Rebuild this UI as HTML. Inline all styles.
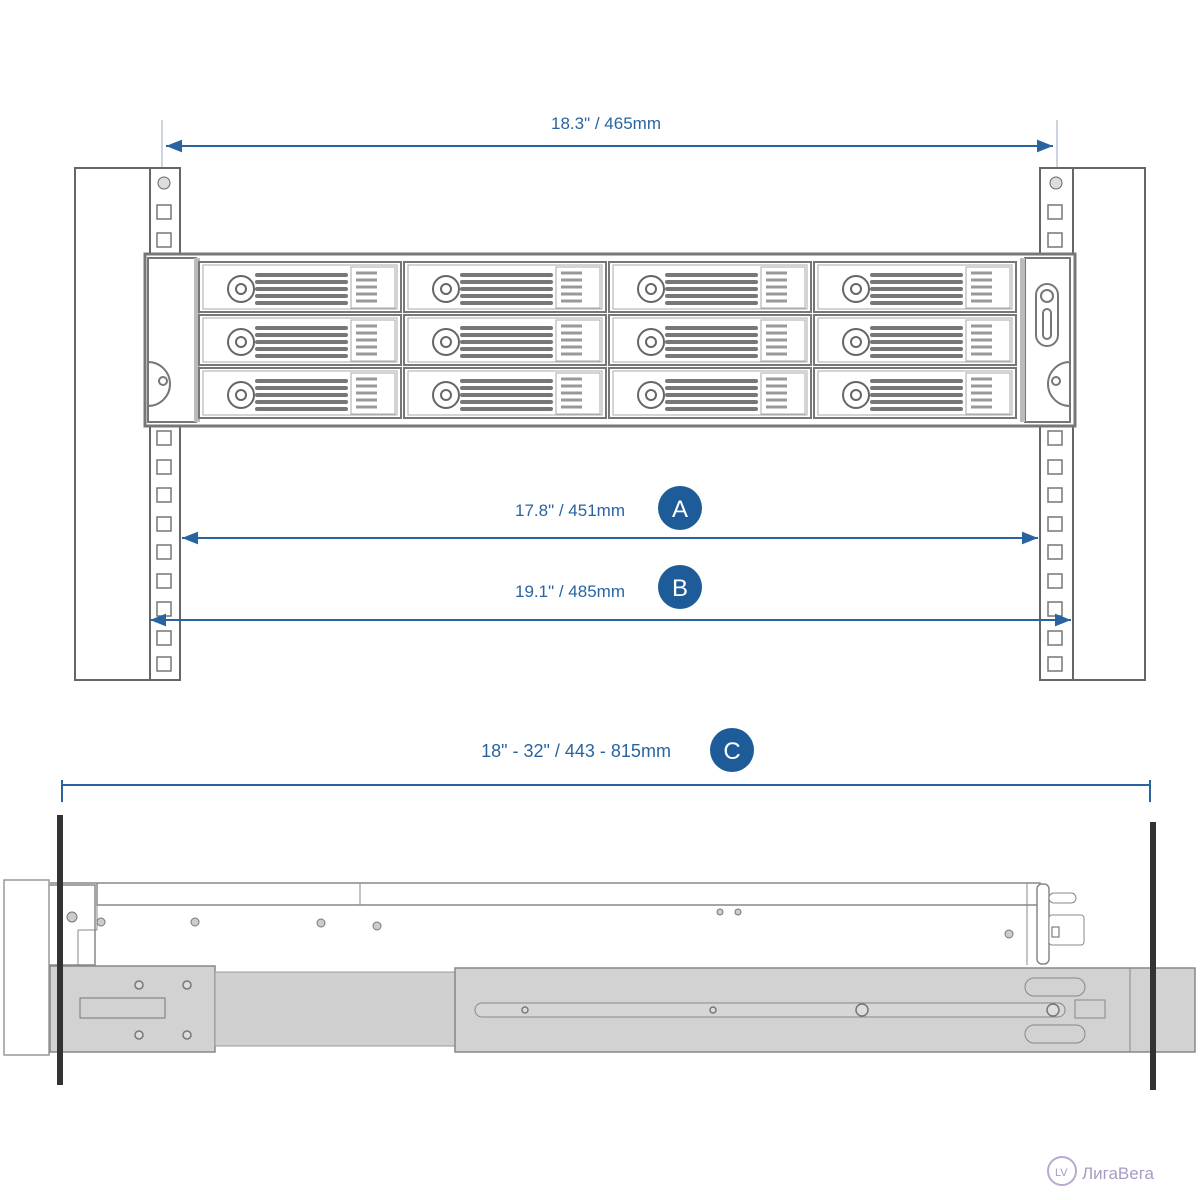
<!DOCTYPE html>
<html><head><meta charset="utf-8"><style>
html,body{margin:0;padding:0;background:#fff}
svg{display:block}
text{font-family:"Liberation Sans",Arial,sans-serif}
</style></head><body>
<svg width="1200" height="1200" viewBox="0 0 1200 1200" xmlns="http://www.w3.org/2000/svg">
<defs>
<marker id="ar" viewBox="0 0 10 10" refX="10" refY="5" markerWidth="8" markerHeight="8" orient="auto-start-reverse"><path d="M0,1 L10,5 L0,9 z" fill="#2a64a0"/></marker>
<g id="bay">
 <rect x="0" y="0" width="202" height="50" fill="#fff" stroke="#777" stroke-width="2"/>
 <rect x="4" y="3" width="194" height="44" fill="none" stroke="#aaa" stroke-width="1"/>
 <circle cx="42" cy="27" r="13" fill="#fff" stroke="#666" stroke-width="2"/>
 <circle cx="42" cy="27" r="5" fill="none" stroke="#666" stroke-width="2"/>
 <g stroke="#777" stroke-width="4" stroke-linecap="round">
  <line x1="58" y1="13" x2="147" y2="13"/><line x1="58" y1="20" x2="147" y2="20"/>
  <line x1="58" y1="27" x2="147" y2="27"/><line x1="58" y1="34" x2="147" y2="34"/>
  <line x1="58" y1="41" x2="147" y2="41"/>
 </g>
 <rect x="152" y="5" width="44" height="41" fill="none" stroke="#aaa"/>
 <g stroke="#999" stroke-width="3"><line x1="157" y1="11" x2="178" y2="11"/><line x1="157" y1="18" x2="178" y2="18"/><line x1="157" y1="25" x2="178" y2="25"/><line x1="157" y1="32" x2="178" y2="32"/><line x1="157" y1="39" x2="178" y2="39"/></g>
</g>
<rect id="hole" width="14" height="14" fill="#fff" stroke="#777" stroke-width="1.5"/>
</defs>

<!-- top dimension -->
<line x1="162" y1="120" x2="162" y2="178" stroke="#9ab" stroke-width="1"/>
<line x1="1057" y1="120" x2="1057" y2="178" stroke="#9ab" stroke-width="1"/>
<line x1="166" y1="146" x2="1053" y2="146" stroke="#2a64a0" stroke-width="2" marker-start="url(#ar)" marker-end="url(#ar)"/>
<text x="606" y="129" font-size="17" fill="#2a64a0" text-anchor="middle">18.3" / 465mm</text>

<!-- rack posts -->
<rect x="75" y="168" width="105" height="512" fill="#fff" stroke="#666" stroke-width="2"/>
<line x1="150" y1="168" x2="150" y2="680" stroke="#666" stroke-width="2"/>
<rect x="1040" y="168" width="105" height="512" fill="#fff" stroke="#666" stroke-width="2"/>
<line x1="1073" y1="168" x2="1073" y2="680" stroke="#666" stroke-width="2"/>
<circle cx="164" cy="183" r="6" fill="#ddd" stroke="#666"/>
<circle cx="1056" cy="183" r="6" fill="#ddd" stroke="#666"/>
<g>
<use href="#hole" x="157" y="205"/><use href="#hole" x="157" y="233"/>
<use href="#hole" x="157" y="431"/><use href="#hole" x="157" y="460"/><use href="#hole" x="157" y="488"/><use href="#hole" x="157" y="517"/><use href="#hole" x="157" y="545"/><use href="#hole" x="157" y="574"/><use href="#hole" x="157" y="602"/><use href="#hole" x="157" y="631"/><use href="#hole" x="157" y="657"/>
<use href="#hole" x="1048" y="205"/><use href="#hole" x="1048" y="233"/>
<use href="#hole" x="1048" y="431"/><use href="#hole" x="1048" y="460"/><use href="#hole" x="1048" y="488"/><use href="#hole" x="1048" y="517"/><use href="#hole" x="1048" y="545"/><use href="#hole" x="1048" y="574"/><use href="#hole" x="1048" y="602"/><use href="#hole" x="1048" y="631"/><use href="#hole" x="1048" y="657"/>
</g>

<!-- chassis -->
<rect x="145" y="254" width="930" height="172" fill="#fff" stroke="#777" stroke-width="3"/>
<rect x="148" y="258" width="48" height="164" fill="#fff" stroke="#777" stroke-width="2"/>
<path d="M148,362 a22,22 0 0 1 0,44" fill="none" stroke="#777" stroke-width="2"/>
<circle cx="163" cy="381" r="4" fill="none" stroke="#777" stroke-width="2"/>
<rect x="194" y="258" width="6" height="164" fill="#bbb"/>
<rect x="1025" y="258" width="45" height="164" fill="#fff" stroke="#777" stroke-width="2"/>
<rect x="1020" y="258" width="5" height="164" fill="#bbb"/>
<rect x="1036" y="284" width="22" height="62" rx="11" fill="none" stroke="#777" stroke-width="2"/>
<circle cx="1047" cy="296" r="6" fill="none" stroke="#777" stroke-width="2"/>
<rect x="1043" y="309" width="8" height="30" rx="4" fill="none" stroke="#777" stroke-width="2"/>
<path d="M1070,362 a22,22 0 0 0 0,44" fill="none" stroke="#777" stroke-width="2"/>
<circle cx="1056" cy="381" r="4" fill="none" stroke="#777" stroke-width="2"/>
<use href="#bay" x="199" y="262"/><use href="#bay" x="404" y="262"/><use href="#bay" x="609" y="262"/><use href="#bay" x="814" y="262"/>
<use href="#bay" x="199" y="315"/><use href="#bay" x="404" y="315"/><use href="#bay" x="609" y="315"/><use href="#bay" x="814" y="315"/>
<use href="#bay" x="199" y="368"/><use href="#bay" x="404" y="368"/><use href="#bay" x="609" y="368"/><use href="#bay" x="814" y="368"/>

<!-- A -->
<text x="570" y="516" font-size="17" fill="#2a64a0" text-anchor="middle">17.8" / 451mm</text>
<circle cx="680" cy="508" r="22" fill="#1d5c98"/>
<text x="680" y="517" font-size="24" fill="#fff" text-anchor="middle">A</text>
<line x1="182" y1="538" x2="1038" y2="538" stroke="#2a64a0" stroke-width="2" marker-start="url(#ar)" marker-end="url(#ar)"/>
<!-- B -->
<text x="570" y="597" font-size="17" fill="#2a64a0" text-anchor="middle">19.1" / 485mm</text>
<circle cx="680" cy="587" r="22" fill="#1d5c98"/>
<text x="680" y="596" font-size="24" fill="#fff" text-anchor="middle">B</text>
<line x1="150" y1="620" x2="1071" y2="620" stroke="#2a64a0" stroke-width="2" marker-start="url(#ar)" marker-end="url(#ar)"/>
<!-- C -->
<text x="576" y="757" font-size="18" fill="#2a64a0" text-anchor="middle">18" - 32" / 443 - 815mm</text>
<circle cx="732" cy="750" r="22" fill="#1d5c98"/>
<text x="732" y="759" font-size="24" fill="#fff" text-anchor="middle">C</text>
<line x1="62" y1="785" x2="1150" y2="785" stroke="#2a64a0" stroke-width="2"/>
<line x1="62" y1="780" x2="62" y2="802" stroke="#2a64a0" stroke-width="2"/>
<line x1="1150" y1="780" x2="1150" y2="802" stroke="#2a64a0" stroke-width="2"/>

<!-- side view -->
<path d="M12,885 L95,885 L95,965 L12,965 Z" fill="#fff" stroke="#888" stroke-width="1.5"/>
<rect x="4" y="880" width="45" height="175" fill="#fff" stroke="#999" stroke-width="1.5"/>
<path d="M50,883 L97,883 L97,905 L1040,905 L1040,883 L97,883" fill="none" stroke="#888" stroke-width="1.5"/>
<line x1="97" y1="905" x2="97" y2="930" stroke="#888"/><line x1="78" y1="930" x2="97" y2="930" stroke="#888"/>
<line x1="78" y1="930" x2="78" y2="968" stroke="#888"/>
<line x1="360" y1="883" x2="360" y2="905" stroke="#888"/>
<line x1="1027" y1="883" x2="1027" y2="965" stroke="#888"/>
<rect x="1037" y="884" width="12" height="80" rx="5" fill="#fff" stroke="#888" stroke-width="1.5"/>
<rect x="1049" y="915" width="35" height="30" rx="3" fill="#fff" stroke="#888"/>
<rect x="1049" y="893" width="27" height="10" rx="5" fill="#fff" stroke="#888"/>
<rect x="1052" y="927" width="7" height="10" fill="none" stroke="#666"/>
<g fill="#ccc" stroke="#777"><circle cx="72" cy="917" r="5"/><circle cx="101" cy="922" r="4"/><circle cx="195" cy="922" r="4"/><circle cx="321" cy="923" r="4"/><circle cx="377" cy="926" r="4"/><circle cx="720" cy="912" r="3"/><circle cx="738" cy="912" r="3"/><circle cx="1009" cy="934" r="4"/></g>
<!-- rails -->
<rect x="50" y="966" width="165" height="86" fill="#d2d2d2" stroke="#888" stroke-width="1.5"/>
<rect x="215" y="972" width="240" height="74" fill="#d0d0d0" stroke="#999"/>
<rect x="455" y="968" width="740" height="84" fill="#d2d2d2" stroke="#888" stroke-width="1.5"/>
<rect x="475" y="1003" width="590" height="14" rx="7" fill="#d6d6d6" stroke="#888"/>
<rect x="1025" y="978" width="60" height="18" rx="9" fill="none" stroke="#888"/>
<rect x="1025" y="1025" width="60" height="18" rx="9" fill="none" stroke="#888"/>
<line x1="1130" y1="968" x2="1130" y2="1052" stroke="#888"/>
<g fill="#ddd" stroke="#777" stroke-width="1.5"><circle cx="139" cy="985" r="4"/><circle cx="187" cy="985" r="4"/><circle cx="139" cy="1035" r="4"/><circle cx="187" cy="1035" r="4"/><circle cx="525" cy="1010" r="3"/><circle cx="713" cy="1010" r="3"/><circle cx="862" cy="1010" r="6"/><circle cx="1053" cy="1010" r="6"/></g>
<rect x="80" y="998" width="85" height="20" fill="none" stroke="#777"/>
<rect x="1075" y="1000" width="30" height="18" fill="none" stroke="#888"/>
<!-- black posts -->
<rect x="57" y="815" width="6" height="270" fill="#333"/>
<rect x="1150" y="822" width="6" height="268" fill="#333"/>

<circle cx="1062" cy="1171" r="14" fill="none" stroke="#b9a9d0" stroke-width="2"/>
<text x="1055" y="1176" font-size="11" fill="#a99ac4">LV</text>
<text x="1082" y="1179" font-size="17" fill="#a99ac4">ЛигаВега</text>
</svg>
</body></html>
